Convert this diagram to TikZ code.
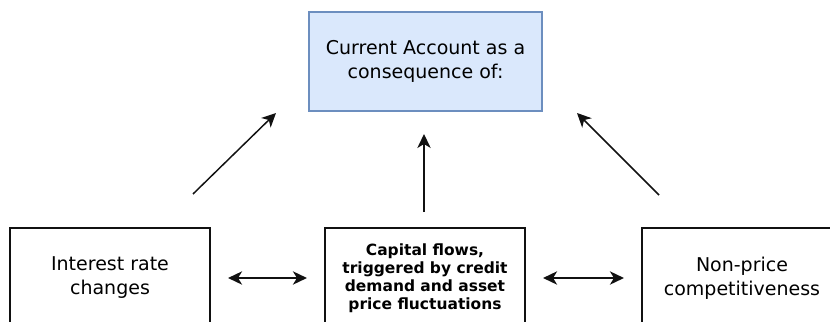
\documentclass[tikz,border=0pt]{standalone}
\usepackage{fontspec}
\setmainfont{DejaVu Sans}
\usetikzlibrary{arrows.meta}
\definecolor{topfill}{HTML}{DAE8FC}
\definecolor{topline}{HTML}{6C8EBF}
\definecolor{ink}{HTML}{111111}
\begin{document}
\begin{tikzpicture}[x=0.75pt,y=-0.75pt,
  box/.style={draw=ink, line width=1.1pt, minimum width=150pt, minimum height=75pt,
    inner sep=0pt, align=center, text=black, font=\fontsize{14.25}{18}\selectfont},
  topbox/.style={box, fill=topfill, draw=topline, minimum width=174.75pt, minimum height=74.25pt},
  boldbox/.style={box, font=\fontsize{11.6}{13.6}\selectfont\bfseries},
  arr/.style={-{Stealth[length=10.5pt,width=10pt,inset=3pt]}, line width=1.1pt, draw=ink},
  dbl/.style={{Stealth[length=10.5pt,width=10pt,inset=3pt]}-{Stealth[length=10.5pt,width=10pt,inset=3pt]},
    line width=1.2pt, draw=ink, shorten >=13pt, shorten <=13pt}]
\useasboundingbox (0,0) rectangle (830,321);
\clip (0,0) rectangle (830,321);
\node[topbox] (ca) at (425.5,61.5) {Current Account as a\\consequence of:};
\node[box] (ir) at (110,278) {Interest rate\\changes};
\node[boldbox] (cf) at (425,278) {Capital flows,\\triggered by credit\\demand and asset\\price fluctuations};
\node[box] (np) at (742,278) {Non-price\\competitiveness};
\coordinate (a1s) at (193,194);
\coordinate (a1e) at (276,113);
\coordinate (a2s) at (424,212);
\coordinate (a2e) at (424,134);
\coordinate (a3s) at (659,195);
\coordinate (a3e) at (577,113);
\draw[arr] (a1s) -- (a1e);
\draw[arr] (a2s) -- (a2e);
\draw[arr] (a3s) -- (a3e);
\draw[dbl] (ir.east) -- (cf.west);
\draw[dbl] (cf.east) -- (np.west);
\end{tikzpicture}
\end{document}
